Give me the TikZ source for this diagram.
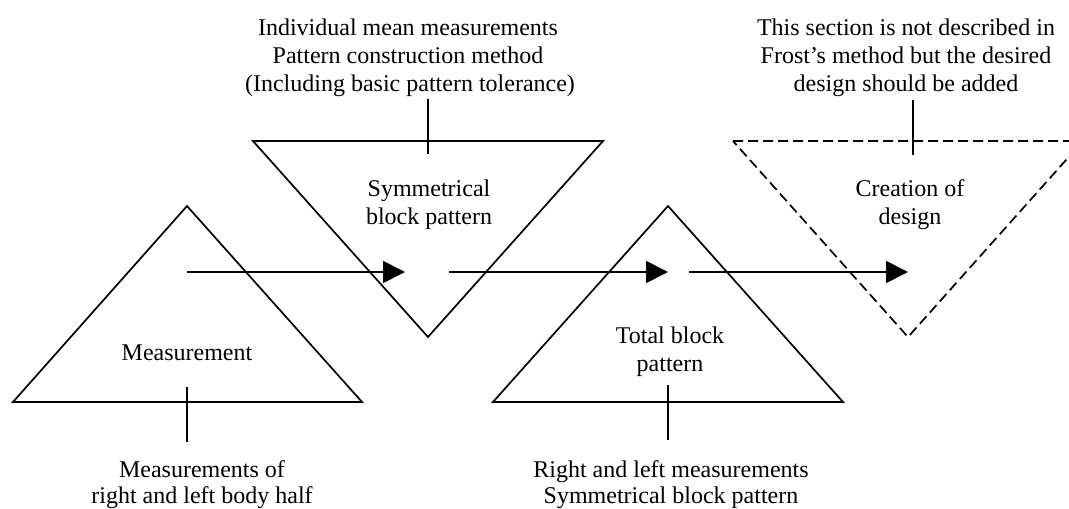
\documentclass[tikz,border=0pt]{standalone}
\usepackage{fontspec}
\setmainfont{Liberation Serif}
\usetikzlibrary{arrows.meta}
\begin{document}
\begin{tikzpicture}[x=1pt,y=-1pt,
  stage/.style={draw=black,line width=1.7pt,line join=miter},
  plan/.style={stage,dash pattern=on 10pt off 5pt},
  tickline/.style={draw=black,line width=1.7pt},
  flow/.style={draw=black,line width=1.8pt,-{Triangle[length=22pt,width=22pt]}},
  txt/.style={font=\fontsize{24}{28}\selectfont,inner sep=0pt,anchor=base}]
\useasboundingbox (0,0) rectangle (1069,509);
\clip (0,0) rectangle (1069,509);

% stage outlines
\draw[stage] (13,402) -- (187,206) -- (362,402) -- cycle;
\draw[stage] (253,141) -- (603,141) -- (428,337) -- cycle;
\draw[stage] (493,402) -- (668,206) -- (843,402) -- cycle;
\draw[plan] (733,141) -- (1083,141) -- (908,337) -- cycle;

% labels inside the stages
\node[txt] (meas) at (187,360) {Measurement};
\node[txt] (syma) at (429,196) {Symmetrical};
\node[txt] (symb) at (429,224) {block pattern};
\node[txt] (tota) at (670,343) {Total block};
\node[txt] (totb) at (670,371) {pattern};
\node[txt] (crea) at (910,196) {Creation of};
\node[txt] (creb) at (910,224) {design};

% inputs above the inverted stages
\node[txt] (ina) at (408,35) {Individual mean measurements};
\node[txt] (inb) at (408,63) {Pattern construction method};
\node[txt] (inc) at (410,91) {(Including basic pattern tolerance)};
\node[txt] (nda) at (906,35) {This section is not described in};
\node[txt] (ndb) at (906,63) {Frost’s method but the desired};
\node[txt] (ndc) at (906,91) {design should be added};

% outputs below the upright stages
\node[txt] (oua) at (202,477) {Measurements of};
\node[txt] (oub) at (202,503) {right and left body half};
\node[txt] (ota) at (671,477) {Right and left measurements};
\node[txt] (otb) at (671,503) {Symmetrical block pattern};

% tick marks
\coordinate (k1a) at (187,387); \coordinate (k1b) at (187,442);
\coordinate (k2a) at (428,99);  \coordinate (k2b) at (428,154);
\coordinate (k3a) at (668,385); \coordinate (k3b) at (668,440);
\coordinate (k4a) at (913,100); \coordinate (k4b) at (913,155);
\draw[tickline] (k1a) -- (k1b);
\draw[tickline] (k2a) -- (k2b);
\draw[tickline] (k3a) -- (k3b);
\draw[tickline] (k4a) -- (k4b);

% flow between stages
\coordinate (f1s) at (187,272); \coordinate (f1e) at (405,272);
\coordinate (f2s) at (449,272); \coordinate (f2e) at (668,272);
\coordinate (f3s) at (689,272); \coordinate (f3e) at (908,272);
\draw[flow] (f1s) -- (f1e);
\draw[flow] (f2s) -- (f2e);
\draw[flow] (f3s) -- (f3e);
\end{tikzpicture}
\end{document}
